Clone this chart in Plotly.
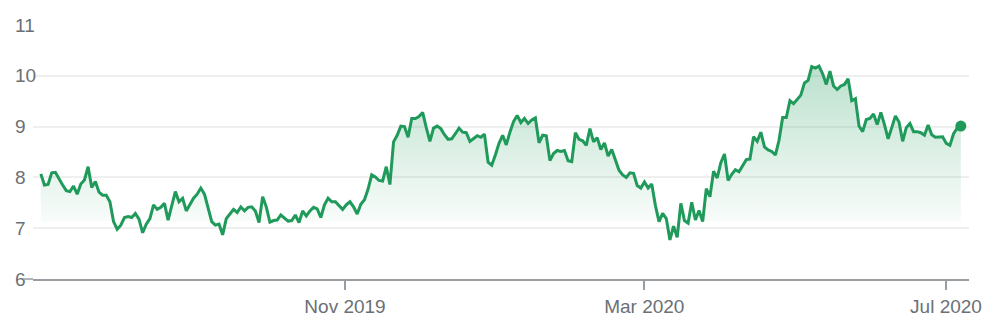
import plotly.graph_objects as go
import pandas as pd

# ---- data ----
values = [
    # Jul - Aug 2019
    8.07, 7.85, 7.86, 8.09, 8.10, 7.96, 7.85, 7.74, 7.72, 7.83, 7.67, 7.87, 7.95, 8.21, 7.80, 7.92,
    7.71, 7.65, 7.65, 7.52, 7.13, 6.98, 7.06, 7.21, 7.23, 7.21, 7.29, 7.18, 6.91, 7.08, 7.19,
    # Aug - Sep 2019
    7.46, 7.37, 7.41, 7.49, 7.16, 7.42, 7.72, 7.52, 7.59, 7.34, 7.47, 7.59, 7.67, 7.79, 7.67, 7.37,
    7.13, 7.06, 7.08, 6.87, 7.19, 7.28, 7.37, 7.31, 7.42, 7.34, 7.41, 7.42, 7.34, 7.11, 7.62, 7.42,
    # Sep - Nov 2019
    7.12, 7.15, 7.16, 7.26, 7.19, 7.14, 7.15, 7.26, 7.11, 7.34, 7.24, 7.34, 7.41, 7.38, 7.21, 7.46,
    7.59, 7.52, 7.52, 7.44, 7.37, 7.46, 7.52, 7.42, 7.28, 7.47, 7.56, 7.77, 8.05, 8.01, 7.94, 7.93, 8.21,
    # Nov 2019 - Jan 2020
    7.86, 8.70, 8.83, 9.01, 9.00, 8.79, 9.16, 9.16, 9.20, 9.28, 8.98, 8.71, 8.97, 9.01, 8.96, 8.84,
    8.75, 8.76, 8.86, 8.97, 8.89, 8.88, 8.71, 8.77, 8.82, 8.79, 8.85, 8.30, 8.24, 8.44,
    # Jan - Feb 2020
    8.67, 8.83, 8.64, 8.89, 9.10, 9.22, 9.08, 9.16, 9.06, 9.13, 9.17, 8.68, 8.83, 8.82, 8.33, 8.47,
    8.53, 8.51, 8.53, 8.33, 8.31, 8.88, 8.75, 8.72, 8.63, 8.96, 8.70, 8.78, 8.55, 8.68, 8.42, 8.55,
    # Feb - Apr 2020
    8.33, 8.14, 8.05, 8.00, 8.09, 8.08, 7.84, 7.79, 7.91, 7.79, 7.87, 7.45, 7.13, 7.29, 7.19, 6.77,
    7.04, 6.82, 7.49, 7.15, 7.10, 7.51, 7.16, 7.35, 7.13, 7.78, 7.62, 8.12, 7.99, 8.29, 8.46, 7.94,
    # Apr - Jun 2020
    8.06, 8.15, 8.11, 8.24, 8.35, 8.36, 8.80, 8.71, 8.89, 8.60, 8.54, 8.51, 8.44, 8.73, 9.18, 9.18,
    9.51, 9.45, 9.53, 9.62, 9.86, 9.91, 10.18, 10.15, 10.19, 10.04, 9.83, 10.09, 9.80, 9.73, 9.80, 9.83, 9.94,
    # Jun - Jul 2020
    9.51, 9.55, 9.01, 8.90, 9.14, 9.16, 9.25, 9.04, 9.28, 9.04, 8.76, 8.98, 9.21, 9.09, 8.71, 8.98,
    9.06, 8.90, 8.90, 8.88, 8.83, 9.03, 8.84, 8.79, 8.79, 8.80, 8.67, 8.63, 8.86, 8.97, 9.01,
]
first_day = "2019-07-01"
last_day = "2020-07-07"
dates = pd.date_range(first_day, last_day, periods=len(values))

x_tick_dates = ["2019-11-01", "2020-03-01", "2020-07-01"]
x_tick_labels = ["Nov 2019", "Mar 2020", "Jul 2020"]
y_ticks = [6, 7, 8, 9, 10, 11]

# ---- style ----
GREEN = "#1f9a5a"
TEXT = "#6b7075"
GRID = "#efefef"
AXIS = "#999ea3"
FILL_BASE = 7.13
FONT = "Arial, Liberation Sans, sans-serif"

fig = go.Figure()
fig.add_trace(go.Scatter(
    x=dates, y=[FILL_BASE] * len(values), mode="lines",
    line=dict(width=0, color="rgba(0,0,0,0)"), hoverinfo="skip", showlegend=False,
))
fig.add_trace(go.Scatter(
    x=dates, y=values, mode="lines",
    line=dict(color=GREEN, width=3),
    fill="tonexty",
    fillgradient=dict(
        type="vertical",
        colorscale=[[0, "rgba(31,154,90,0.03)"], [1, "rgba(31,154,90,0.30)"]],
        start=FILL_BASE, stop=max(values),
    ),
    showlegend=False,
))
fig.add_trace(go.Scatter(
    x=[dates[-1]], y=[values[-1]], mode="markers",
    marker=dict(color=GREEN, size=11), showlegend=False,
))

fig.update_layout(
    width=993, height=328,
    margin=dict(l=33, r=24, t=25, b=49, autoexpand=False),
    paper_bgcolor="white", plot_bgcolor="white",
    font=dict(family=FONT, size=19, color=TEXT),
    xaxis=dict(
        type="date",
        range=["2019-06-27 20:10", "2020-07-10 07:12"],
        tickvals=x_tick_dates, ticktext=x_tick_labels,
        showgrid=False, zeroline=False,
        showline=True, linecolor=AXIS, linewidth=1.5,
        ticks="outside", ticklen=9, tickcolor=AXIS, tickwidth=1.5,
        tickfont=dict(family=FONT, size=19, color=TEXT),
    ),
    yaxis=dict(
        range=[6, 11], tickvals=y_ticks,
        showgrid=True, gridcolor=GRID, gridwidth=1.5,
        zeroline=False, showline=False, ticks="",
        ticklabelposition="inside", ticklabelstandoff=-21,
        ticklabeloverflow="allow",
        tickfont=dict(family=FONT, size=19, color=TEXT),
    ),
    shapes=[dict(type="line", xref="paper", yref="paper", x0=-10 / 936, x1=0, y0=0, y1=0,
                 line=dict(color=AXIS, width=1.5))],
)

fig.write_html("out.html")
